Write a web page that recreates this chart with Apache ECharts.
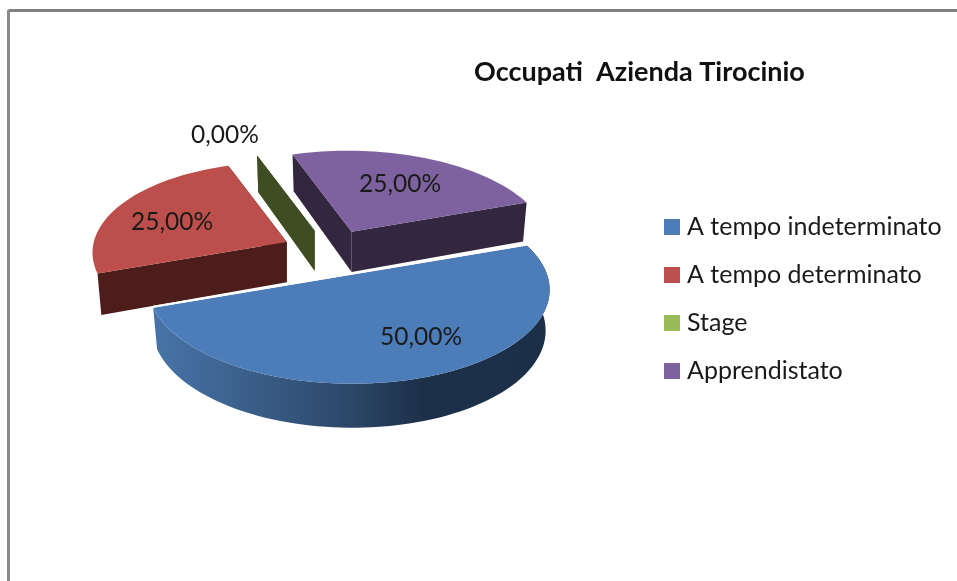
<!DOCTYPE html>
<html>
<head>
<meta charset="utf-8">
<style>
html, body { margin: 0; padding: 0; background: #fff; }
#chart { width: 957px; height: 581px; }
</style>
<script src="https://cdn.jsdelivr.net/npm/echarts@6/dist/echarts.min.js"></script>
</head>
<body>
<div id="chart"></div>
<script>
// dati
var categories = ['A tempo indeterminato', 'A tempo determinato', 'Stage', 'Apprendistato'];
var shares = [50, 25, 0, 25];
var titleText = 'Occupati  Azienda Tirocinio';

var topColors = ['#4C7DB8', '#BC4F4B', '#9BBB59', '#7E62A0'];
var wallColors = ['#1C3049', '#4D1D1B', '#3F4D23', '#33273F'];
var labelPos = [[421, 337], [172, 222], [225, 135], [400, 184]];
var sliceRadius = [199, 193, 190, 195];
var sliceNudge = [[4, 2], [0, 0], [1, 0], [2, 0]];
var seriesZ = [5, 3, 2, 2];

// pseudo 3D: ellisse schiacciata con un po' di prospettiva
var pie = { cx: 329, cy: 252, squash: 0.48, persp: 0.135, shear: 0.02, height: 40.2, explode: 47, startAngle: -19 };
var total = shares.reduce(function (a, b) { return a + b; }, 0);

function rad(d) { return d * Math.PI / 180; }

function sliceAngles(i) {
    var before = 0;
    for (var j = 0; j < i; j++) before += shares[j];
    var a0 = pie.startAngle + before / total * 360;
    return [a0, a0 + shares[i] / total * 360];
}

function makeProjector(i, mid) {
    var r = sliceRadius[i];
    var ax = pie.cx + pie.explode * Math.cos(rad(mid)) + sliceNudge[i][0];
    var ay = pie.cy + pie.explode * Math.sin(rad(mid)) * pie.squash + sliceNudge[i][1];
    return function (fr, ang, drop) {
        var lx = fr * r * Math.cos(rad(ang));
        var ly = fr * r * Math.sin(rad(ang));
        var s = 1 + pie.persp * ly / r;
        var h = drop ? pie.height * (1 + 0.7 * (s - 1)) : 0;
        var xs = drop ? 0.98 : 1;
        return [ax + lx * s * xs + pie.shear * ly, ay + ly * pie.squash * s + h];
    };
}

function renderSlice(i) {
    return function (params, api) {
        var value = api.value(0);
        var ang = sliceAngles(i);
        var mid = (ang[0] + ang[1]) / 2;
        var p = makeProjector(i, mid);
        var children = [];
        var wall = { fill: wallColors[i] };

        function radial(a) {
            return { type: 'polygon', shape: { points: [p(0, a, false), p(1, a, false), p(1, a, true), p(0, a, true)] }, style: wall };
        }

        var rimTop = [], rimLow = [];
        for (var a = ang[0]; a < ang[1]; a += 2) {
            rimTop.push(p(1, a, false));
            rimLow.push(p(1, a, true));
        }
        rimTop.push(p(1, ang[1], false));
        rimLow.push(p(1, ang[1], true));

        // fianchi prima, faccia sopra
        if (i === 0) {
            children.push({
                type: 'polygon',
                shape: { points: rimTop.concat(rimLow.slice().reverse()) },
                style: {
                    fill: {
                        type: 'linear', x: 0, y: 0, x2: 1, y2: 0,
                        colorStops: [
                            { offset: 0, color: '#4874A8' },
                            { offset: 0.47, color: '#2E4A6C' },
                            { offset: 0.68, color: '#1C3049' },
                            { offset: 1, color: '#1B3048' }
                        ]
                    }
                }
            });
        } else {
            children.push(radial(ang[1]));
            children.push(radial(ang[0]));
        }
        if (value > 0) {
            children.push({
                type: 'polygon',
                shape: { points: [p(0, ang[0], false)].concat(rimTop) },
                style: { fill: topColors[i] }
            });
        }
        if (i === 0) {
            // filo bianco sul bordo dritto della fetta blu
            children.push({
                type: 'line',
                shape: {
                    x1: p(1, ang[1], false)[0], y1: p(1, ang[1], false)[1] - 1,
                    x2: p(1, ang[0], false)[0], y2: p(1, ang[0], false)[1] - 1
                },
                style: { stroke: '#ffffff', lineWidth: 2 }
            });
        }
        children.push({
            type: 'text',
            style: {
                text: value.toFixed(2).replace('.', ',') + '%',
                x: labelPos[i][0],
                y: labelPos[i][1],
                align: 'center',
                verticalAlign: 'middle',
                fill: '#1a1a1a',
                font: '24.5px Lato'
            }
        });
        return { type: 'group', children: children };
    };
}

var myChart = echarts.init(document.getElementById('chart'));

var option = {
    animation: false,
    backgroundColor: '#ffffff',
    color: topColors,
    title: {
        text: titleText,
        left: 469,
        top: 54,
        textStyle: { fontFamily: 'Lato', fontWeight: 'bold', fontSize: 27, color: '#111111' }
    },
    legend: {
        orient: 'vertical',
        left: 664,
        top: 212,
        padding: 0,
        data: categories,
        icon: 'rect',
        itemWidth: 16,
        itemHeight: 16,
        itemGap: 18,
        textStyle: { fontFamily: 'Lato', fontSize: 25, color: '#1a1a1a', padding: [0, 0, 0, 2], lineHeight: 30 }
    },
    graphic: [
        { type: 'line', z: 10, shape: { x1: 8.5, y1: 10.5, x2: 957, y2: 10.5 }, style: { stroke: '#7f7f7f', lineWidth: 3 }, silent: true },
        { type: 'line', z: 10, shape: { x1: 8.5, y1: 10, x2: 8.5, y2: 581 }, style: { stroke: '#8a8a8a', lineWidth: 3 }, silent: true }
    ],
    series: categories.map(function (name, i) {
        return {
            type: 'custom',
            name: name,
            coordinateSystem: 'none',
            z: seriesZ[i],
            silent: true,
            itemStyle: { color: topColors[i] },
            renderItem: renderSlice(i),
            data: [shares[i]]
        };
    })
};

myChart.setOption(option);
</script>
</body>
</html>
